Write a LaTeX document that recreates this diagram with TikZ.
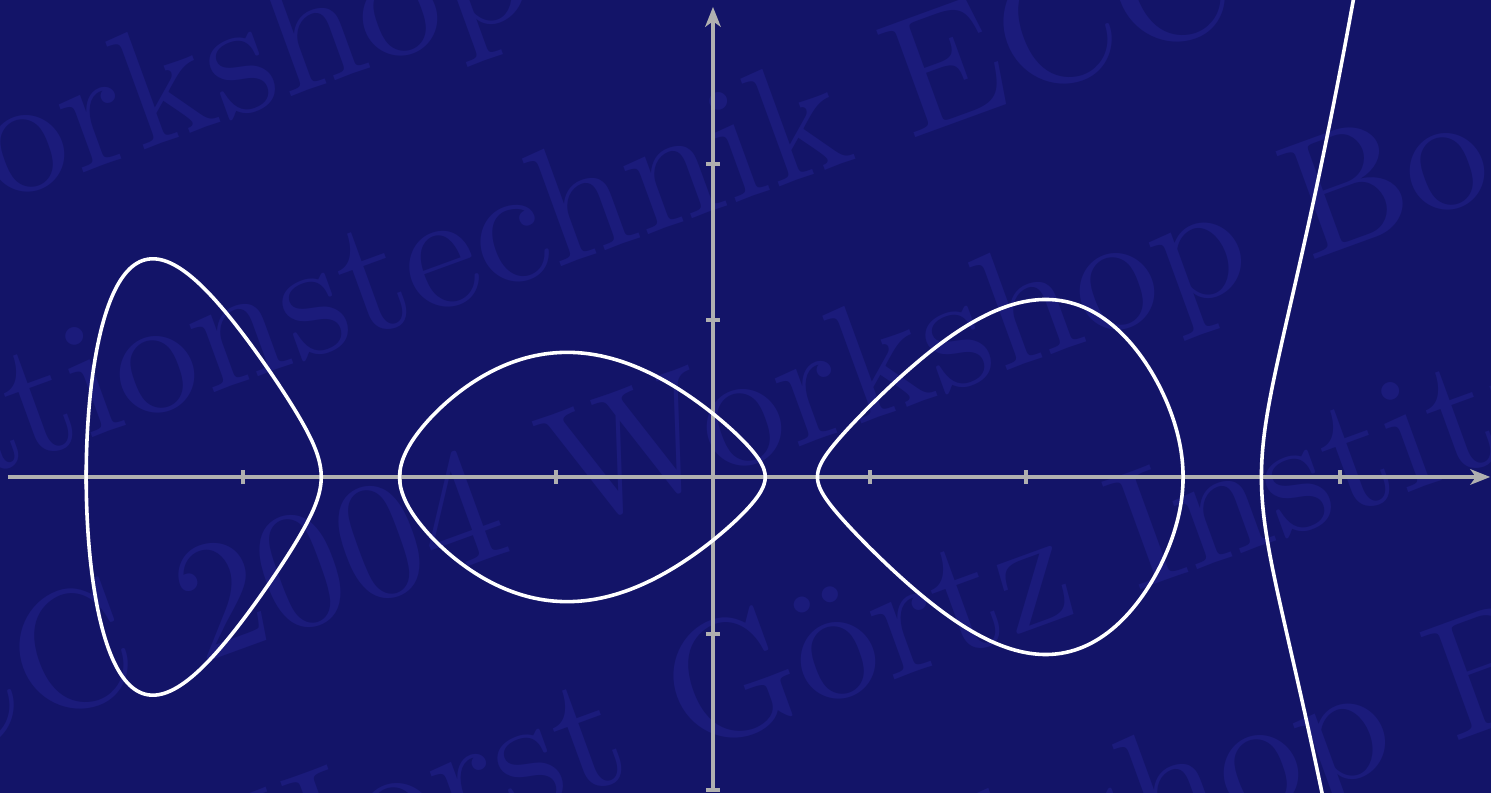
\documentclass[tikz,border=0pt]{standalone}
\usepackage{fontspec}
\newfontfamily\wmfont{lmroman10-regular}[Extension=.otf]
\usetikzlibrary{arrows.meta}
\definecolor{bgblue}{RGB}{19,20,104}
\definecolor{wmblue}{RGB}{27,27,123}
\definecolor{axisgray}{RGB}{176,176,176}
\newcommand{\wsp}{\kern\fontdimen2\font}
\begin{document}
\begin{tikzpicture}[
  wm/.style={text=wmblue, font=\wmfont\fontsize{30.45}{36}\selectfont, inner sep=0pt, outer sep=0pt, rotate=20},
  axisline/.style={draw=axisgray, line width=0.67pt, -{Stealth[length=3.6pt,width=2.8pt,inset=1pt]}},
  tickmark/.style={draw=axisgray, line width=0.72pt},
  curveline/.style={draw=white, line width=0.65pt, line join=round},
  declare function={
    hA(\x)=(\x+2)*(\x-1/3)*(\x-2/3)*(\x-3)*(\x-3.5);
    hB(\x)=(\x+4)*(\x+2.5)*(\x-2/3)*(\x-3)*(\x-3.5);
    hC(\x)=(\x+4)*(\x+2.5)*(\x+2)*(\x-1/3)*(\x-3.5);
    hD(\x)=(\x+4)*(\x+2.5)*(\x+2)*(\x-1/3)*(\x-2/3)*(\x-3);
  }]
\useasboundingbox (-4.5501,-2.0166) rectangle (4.9649,3.0440);
\fill[bgblue] (-4.5501,-2.0166) rectangle (4.9649,3.0440);
\begin{scope}
\clip (-4.5501,-2.0166) rectangle (4.9649,3.0440);
% watermark (pixel coordinates)
\begin{scope}[x=0.0063816cm, y=-0.0063816cm, shift={(-713,-477)}]
  \node[wm, anchor=base west] (w1) at (-149,257) {Workshop Bochum};
  \node[wm, anchor=base west] (w2b) at (911,139) {ECC 2004 Workshop};
  \node[wm, anchor=base east] (w2a) at (911,139) {Informationstechnik\wsp};
  \node[wm, anchor=base west] (w3b) at (568,531) {Workshop Bochum};
  \node[wm, anchor=base east] (w3a) at (568,531) {ECC 2004\wsp};
  \node[wm, anchor=base west] (w4b) at (688,755) {Görtz Institut};
  \node[wm, anchor=base east] (w4a) at (688,755) {Horst\wsp};
  \node[wm, anchor=base west] (w5b) at (712,1013) {Workshop Bochum};
\end{scope}
% axes
\draw[axisline] (-4.5,0) -- (4.96,0);
\draw[axisline] (0,-2) -- (0,3.0);
\foreach \i in {-4,-3,-2,-1,1,2,3,4} \draw[tickmark] (\i,-0.045) -- (\i,0.045);
\foreach \j in {-2,-1,1,2} \draw[tickmark] (-0.045,\j) -- (0.045,\j);
% curve y^2 = c (x+4)(x+2.5)(x+2)(x-1/3)(x-2/3)(x-3)(x-3.5)
\draw[curveline] plot[variable=\t, domain=0:360, samples=241]
  ({-4+0.75*(1-cos(\t))}, {0.75*sin(\t)*sqrt(0.0035*abs(hA(-4+0.75*(1-cos(\t)))))}) -- cycle;
\draw[curveline] plot[variable=\t, domain=0:360, samples=241]
  ({-2+1.166667*(1-cos(\t))}, {1.166667*sin(\t)*sqrt(0.0035*abs(hB(-2+1.166667*(1-cos(\t)))))}) -- cycle;
\draw[curveline] plot[variable=\t, domain=0:360, samples=241]
  ({0.666667+1.166667*(1-cos(\t))}, {1.166667*sin(\t)*sqrt(0.0035*abs(hC(0.666667+1.166667*(1-cos(\t)))))}) -- cycle;
\draw[curveline] plot[variable=\u, domain=-0.66:0.8, samples=121]
  ({3.5+\u*\u}, {\u*sqrt(0.0035*abs(hD(3.5+\u*\u)))});
\end{scope}
\end{tikzpicture}
\end{document}
